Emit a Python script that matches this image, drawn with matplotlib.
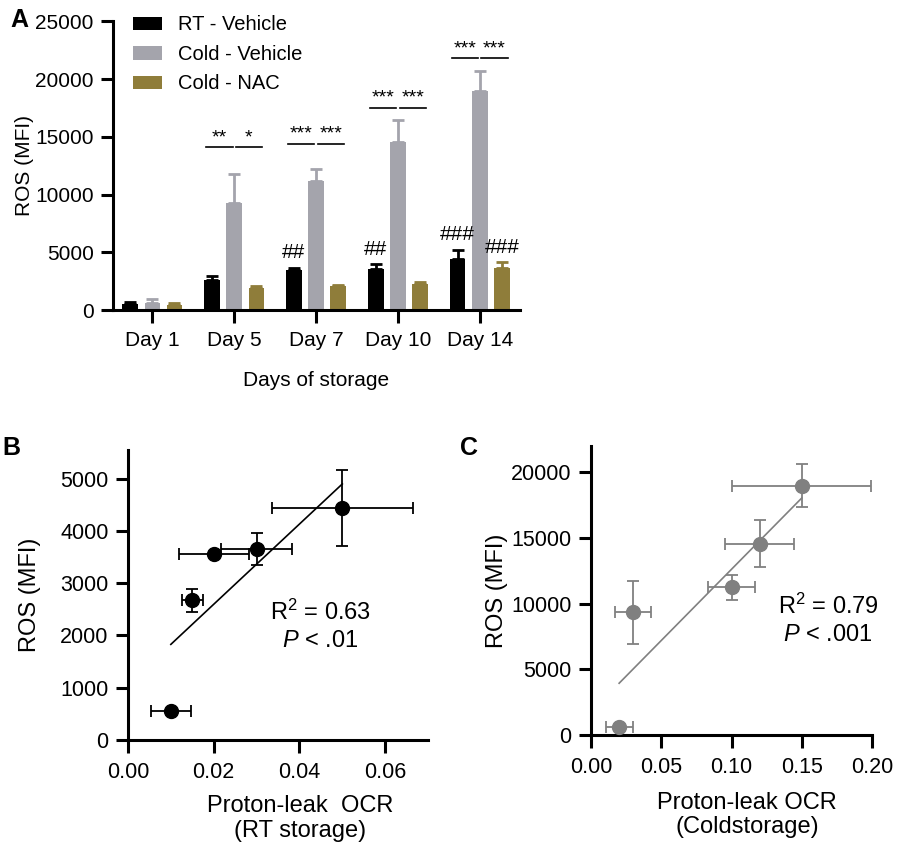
import matplotlib
matplotlib.use("Agg")
import matplotlib.pyplot as plt
import numpy as np

plt.rcParams['font.family'] = ['Liberation Sans', 'DejaVu Sans']
plt.rcParams['mathtext.fontset'] = 'custom'
plt.rcParams['mathtext.it'] = 'Liberation Sans:italic'
plt.rcParams['mathtext.rm'] = 'Liberation Sans'

# ---------- Panel A data ----------
days = ["Day 1", "Day 5", "Day 7", "Day 10", "Day 14"]
series_names = ["RT - Vehicle", "Cold - Vehicle", "Cold - NAC"]
rt_vehicle = [520, 2650, 3520, 3600, 4410]
rt_vehicle_err = [200, 290, 170, 380, 840]
cold_vehicle = [630, 9310, 11220, 14530, 18970]
cold_vehicle_err = [320, 2480, 980, 1910, 1700]
cold_nac = [430, 1960, 2080, 2300, 3660]
cold_nac_err = [200, 140, 80, 150, 520]
colors_a = ["#000000", "#a4a4ac", "#8f7d3a"]

# significance brackets: (day index, left series, right series, y, label)
sig_brackets = [
    (1, 0, 1, 14130, "**"), (1, 1, 2, 14130, "*"),
    (2, 0, 1, 14420, "***"), (2, 1, 2, 14420, "***"),
    (3, 0, 1, 17530, "***"), (3, 1, 2, 17530, "***"),
    (4, 0, 1, 21830, "***"), (4, 1, 2, 21830, "***"),
]
# hash marks: (day index, series index, label)
hash_marks = [(2, 0, "##"), (3, 0, "##"), (4, 0, "###"), (4, 2, "###")]

# ---------- Panel B data ----------
b_x = [0.010, 0.015, 0.020, 0.030, 0.050]
b_y = [550, 2670, 3560, 3650, 4440]
b_xerr = [0.0046, 0.0025, 0.0082, 0.0082, 0.0164]
b_yerr = [0, 220, 0, 310, 730]
b_fit_x = [0.010, 0.050]
b_fit_y = [1830, 4900]

# ---------- Panel C data ----------
c_x = [0.020, 0.030, 0.100, 0.120, 0.150]
c_y = [600, 9350, 11230, 14560, 18970]
c_xerr = [0.0096, 0.013, 0.0165, 0.0246, 0.0494]
c_yerr = [0, 2400, 930, 1780, 1650]
c_fit_x = [0.020, 0.150]
c_fit_y = [3940, 18040]

LW = 2.2

fig = plt.figure(figsize=(9, 8.5), dpi=100)


def style_axes(ax, fs):
    for s in ["top", "right"]:
        ax.spines[s].set_visible(False)
    for s in ["left", "bottom"]:
        ax.spines[s].set_linewidth(LW)
    ax.tick_params(direction="out", width=LW, length=9, labelsize=fs, pad=5)


# ---------- Panel A ----------
axA = fig.add_axes([0.1256, 0.635, 0.452, 0.340])
x = np.arange(len(days))
offsets = [-0.27, 0.0, 0.27]
bw = 0.19
vals = [rt_vehicle, cold_vehicle, cold_nac]
errs = [rt_vehicle_err, cold_vehicle_err, cold_nac_err]
for i in range(3):
    axA.bar(x + offsets[i], vals[i], width=bw, color=colors_a[i],
            label=series_names[i], zorder=2)
    axA.errorbar(x + offsets[i], vals[i],
                 yerr=[np.zeros(len(days)), errs[i]], fmt="none",
                 ecolor=colors_a[i], elinewidth=2, capsize=4, capthick=2,
                 zorder=1)
for d, s1, s2, yv, lab in sig_brackets:
    if s1 == 1:
        xa = d + offsets[s1] + 0.02
        xb = d + offsets[s2] + 0.07
    else:
        xa = d + offsets[s1] - 0.07
        xb = d + offsets[s2] - 0.02
    axA.plot([xa, xb], [yv, yv], color="black", lw=1.2)
    axA.text((xa + xb) / 2, yv + 80, lab, ha="center", va="bottom",
             fontsize=14)
for d, s, lab in hash_marks:
    top = vals[s][d] + errs[s][d]
    axA.text(d + offsets[s], top + 450, lab, ha="center", va="bottom",
             fontsize=15)
axA.set_xlim(-0.48, 4.49)
axA.set_ylim(0, 25000)
axA.set_yticks([0, 5000, 10000, 15000, 20000, 25000])
axA.set_xticks(x)
axA.set_xticklabels(days)
style_axes(axA, 15)
axA.tick_params(axis="x", pad=6)
axA.set_ylabel("ROS (MFI)", fontsize=15)
axA.yaxis.set_label_coords(-0.194, 0.5)
axA.set_xlabel("Days of storage", fontsize=15)
axA.xaxis.set_label_coords(0.5, -0.21)
axA.xaxis.label.set_va("top")
leg = axA.legend(loc="upper left", bbox_to_anchor=(0.049, 1.02),
                 frameon=False, fontsize=14.5, handlelength=1.45,
                 handleheight=0.65, handletextpad=0.8, labelspacing=0.52,
                 borderpad=0, borderaxespad=0)
fig.text(0.012, 0.991, "A", fontsize=18, fontweight="bold", va="top")

# ---------- Panel B ----------
axB = fig.add_axes([0.1422, 0.1294, 0.3334, 0.3412])
axB.plot(b_fit_x, b_fit_y, color="black", lw=1.2, zorder=1)
axB.errorbar(b_x, b_y, xerr=b_xerr, yerr=b_yerr, fmt="o", color="black",
             ms=10, elinewidth=1.3, capsize=4, capthick=1.3, zorder=3)
axB.set_xlim(0, 0.07)
axB.set_ylim(0, 5550)
axB.set_xticks([0.00, 0.02, 0.04, 0.06])
axB.set_xticklabels(["0.00", "0.02", "0.04", "0.06"])
axB.set_yticks([0, 1000, 2000, 3000, 4000, 5000])
style_axes(axB, 15.5)
axB.tick_params(axis="x", pad=7)
axB.set_ylabel("ROS (MFI)", fontsize=17)
axB.yaxis.set_label_coords(-0.29, 0.5)
axB.set_xlabel("Proton-leak  OCR\n(RT storage)", fontsize=17,
               linespacing=1.15)
axB.xaxis.set_label_coords(0.573, -0.19)
axB.xaxis.label.set_va("top")
axB.text(0.0448, 2450, "R$^2$ = 0.63", ha="center", va="center",
         fontsize=17)
axB.text(0.0448, 1900, "$\\it{P}$ < .01", ha="center", va="center",
         fontsize=17)
fig.text(0.003, 0.487, "B", fontsize=18, fontweight="bold", va="top")

# ---------- Panel C ----------
gc = "#808080"
axC = fig.add_axes([0.6567, 0.1353, 0.3122, 0.34])
axC.plot(c_fit_x, c_fit_y, color=gc, lw=1.2, zorder=1)
axC.errorbar(c_x, c_y, xerr=c_xerr, yerr=c_yerr, fmt="o", color=gc,
             ms=10, elinewidth=1.3, capsize=4, capthick=1.3, zorder=3)
axC.set_xlim(0, 0.2)
axC.set_ylim(0, 22000)
axC.set_xticks([0.00, 0.05, 0.10, 0.15, 0.20])
axC.set_xticklabels(["0.00", "0.05", "0.10", "0.15", "0.20"])
axC.set_yticks([0, 5000, 10000, 15000, 20000])
style_axes(axC, 15.5)
axC.tick_params(axis="x", pad=7)
axC.set_ylabel("ROS (MFI)", fontsize=17)
axC.yaxis.set_label_coords(-0.295, 0.5)
axC.set_xlabel("Proton-leak OCR\n(Coldstorage)", fontsize=17,
               linespacing=1.15)
axC.xaxis.set_label_coords(0.555, -0.196)
axC.xaxis.label.set_va("top")
axC.text(0.1687, 9800, "R$^2$ = 0.79", ha="center", va="center",
         fontsize=17)
axC.text(0.1687, 7650, "$\\it{P}$ < .001", ha="center", va="center",
         fontsize=17)
fig.text(0.511, 0.487, "C", fontsize=18, fontweight="bold", va="top")

fig.savefig("out.png", dpi=100)
